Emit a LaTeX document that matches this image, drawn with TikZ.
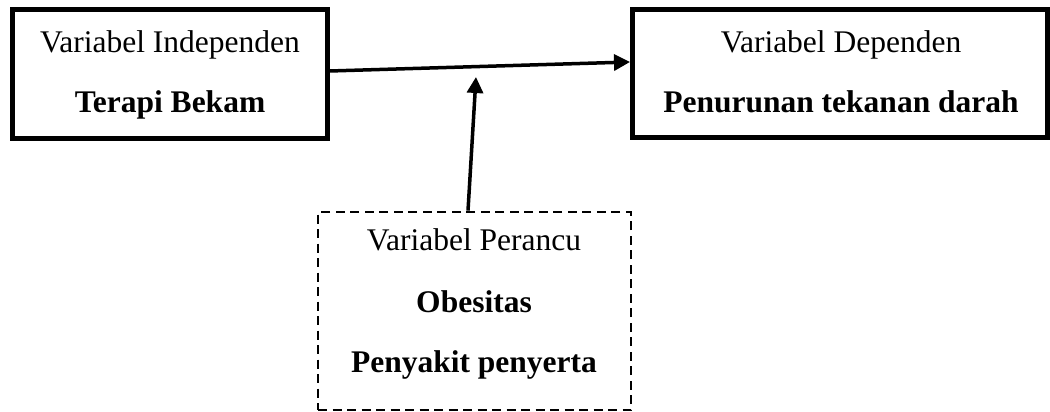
\documentclass[tikz,border=0pt]{standalone}
\usepackage{fontspec}
\setmainfont{Liberation Serif}
\usetikzlibrary{arrows.meta}
\begin{document}
\begin{tikzpicture}[x=1pt,y=-1pt,
  solidbox/.style={draw, line width=5pt, rectangle, inner sep=0pt},
  dashbox/.style={draw, line width=2.8pt, rectangle, inner sep=0pt, dash pattern=on 9pt off 5.5pt},
  lbl/.style={inner sep=0pt, anchor=base, font=\fontsize{31.5}{38}\selectfont},
  blbl/.style={lbl, font=\fontsize{31.5}{38}\selectfont\bfseries},
  arr/.style={line width=3.5pt, -{Triangle[length=16pt,width=16pt]}}]
\useasboundingbox (0,0) rectangle (1050,412);
\node[solidbox, minimum width=315pt, minimum height=128.5pt] (L) at (169.5,73.75) {};
\node[solidbox, minimum width=414.5pt, minimum height=127.5pt] (R) at (839.75,73.25) {};
\node[dashbox, minimum width=313pt, minimum height=198pt] (C) at (474.5,311) {};
\node[lbl] (l1) at (170,53) {Variabel Independen};
\node[blbl] (l2) at (170,112) {Terapi Bekam};
\node[lbl] (r1) at (841,53) {Variabel Dependen};
\node[blbl] (r2) at (841,112) {Penurunan tekanan darah};
\node[lbl] (c1) at (474,250) {Variabel Perancu};
\node[blbl] (c2) at (474,312) {Obesitas};
\node[blbl] (c3) at (474,372) {Penyakit penyerta};
\coordinate (m) at (476,77);
\draw[arr] ([yshift=2.75pt]L.east) -- ([yshift=11.25pt]R.west);
\draw[arr] ([xshift=-6.5pt]C.north) -- (m);
\end{tikzpicture}
\end{document}
